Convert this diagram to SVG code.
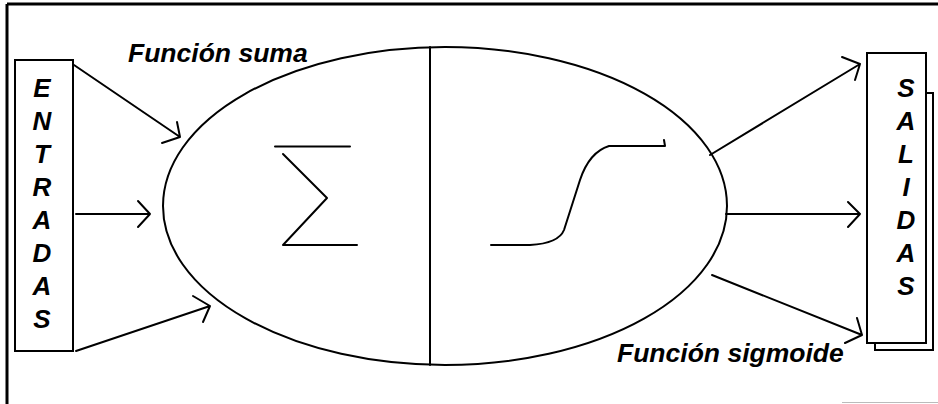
<svg xmlns="http://www.w3.org/2000/svg" width="938" height="404" viewBox="0 0 938 404">
<style>
.ln{fill:none;stroke:#000;stroke-width:2;stroke-linecap:round;stroke-linejoin:round}
.box{fill:#fff;stroke:#000;stroke-width:2}
.lt{font-family:"Liberation Sans",Arial,sans-serif;font-weight:bold;font-style:italic;text-anchor:middle;fill:#000}
.lbl{font-family:"Liberation Sans",Arial,sans-serif;font-weight:bold;font-style:italic;font-size:26.5px;fill:#000}
</style>
<rect width="938" height="404" fill="#fff"/>
<g id="frame">
<line x1="7" y1="4" x2="938" y2="4" stroke="#000" stroke-width="3"/>
<line x1="7" y1="4" x2="7" y2="404" stroke="#000" stroke-width="3"/>
<line x1="842" y1="402.5" x2="938" y2="402.5" stroke="#bbb" stroke-width="1"/>
</g>
<g id="entradas" font-size="26">
<rect class="box" x="15" y="60" width="58" height="291"/>
<text class="lt" x="42" y="97" style="font-size:26px">E</text>
<text class="lt" x="42" y="130" style="font-size:26px">N</text>
<text class="lt" x="42" y="163" style="font-size:26px">T</text>
<text class="lt" x="42" y="196" style="font-size:26px">R</text>
<text class="lt" x="42" y="229" style="font-size:26px">A</text>
<text class="lt" x="42" y="262" style="font-size:26px">D</text>
<text class="lt" x="42" y="295" style="font-size:26px">A</text>
<text class="lt" x="42" y="328" style="font-size:26px">S</text>
</g>
<g id="salidas" font-size="26">
<rect class="box" x="875" y="93" width="58" height="257"/>
<rect class="box" x="867" y="53" width="59" height="290"/>
<text class="lt" x="906" y="97" style="font-size:26px">S</text>
<text class="lt" x="906" y="130" style="font-size:26px">A</text>
<text class="lt" x="906" y="163" style="font-size:26px">L</text>
<text class="lt" x="906" y="196" style="font-size:26px">I</text>
<text class="lt" x="906" y="229" style="font-size:26px">D</text>
<text class="lt" x="906" y="262" style="font-size:26px">A</text>
<text class="lt" x="906" y="295" style="font-size:26px">S</text>
</g>
<g id="neuron">
<ellipse class="ln" cx="445" cy="206" rx="282" ry="159"/>
<line class="ln" x1="430" y1="47" x2="430" y2="365" stroke-width="2.5"/>
</g>
<g id="sigma">
<path class="ln" d="M275 146.5 H350 M283 154 L327 198 L283 245 H357"/>
</g>
<g id="sigmoid">
<path class="ln" d="M491 245 H530 C548 244 560 240 564 230 L580 180 C586 162 596 150 609 146 H665 L664 140"/>
</g>
<g id="labels">
<text class="lbl" x="128" y="62">Función suma</text>
<text class="lbl" x="617" y="362">Función sigmoide</text>
</g>
<g id="connectors">
<path class="ln" d="M74 65 L180 137 M162 143 L180 137 L177 122"/>
<path class="ln" d="M76 214 H150 M138 201 L150 214 L138 227"/>
<path class="ln" d="M76 351 L210 306 M193 296 L210 306 L203 322"/>
<path class="ln" d="M710 155 L860 64 M842 57 L860 64 L855 80"/>
<path class="ln" d="M726 214 H860 M848 202 L860 214 L848 227"/>
<path class="ln" d="M712 275 L862 335 M857 318 L862 335 L845 343"/>
</g>
</svg>
